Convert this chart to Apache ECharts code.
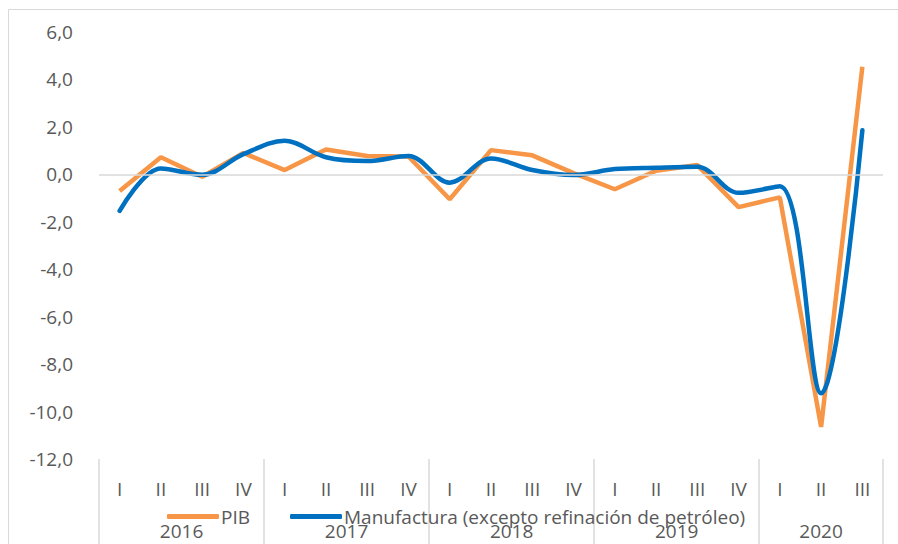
<!DOCTYPE html>
<html>
<head>
<meta charset="utf-8">
<style>
  html, body { margin: 0; padding: 0; background: #fff; }
  #chart { width: 898px; height: 544px; }
</style>
<script src="https://cdn.jsdelivr.net/npm/echarts@6/dist/echarts.min.js"></script>
</head>
<body>
<div id="chart"></div>
<script>
var quarters = ['I', 'II', 'III', 'IV', 'I', 'II', 'III', 'IV', 'I', 'II', 'III', 'IV',
  'I', 'II', 'III', 'IV', 'I', 'II', 'III'];
var years = ['2016', '2017', '2018', '2019', '2020'];
var yearCenters = [2, 6, 10, 14, 17.5];
var yearBounds = [0, 4, 8, 12, 16, 19];
var pib = [-0.7, 0.72, -0.1, 0.9, 0.18, 1.05, 0.77, 0.75, -1.05, 1.02, 0.8, 0.05,
  -0.63, 0.15, 0.39, -1.38, -0.97, -10.65, 4.54];
var manufactura = [-1.54, 0.25, -0.02, 0.85, 1.42, 0.72, 0.56, 0.77, -0.35, 0.67, 0.18, -0.03,
  0.22, 0.28, 0.32, -0.78, -0.5, -9.23, 1.86];

(function() {
  var ink = '#595959';
  var rule = '#D9D9D9';
  var font = '"Open Sans", "Noto Sans", sans-serif';
  var size = 19;

  var chart = echarts.init(document.getElementById('chart'), null, { renderer: 'svg' });
  chart.setOption({
    animation: false,
    textStyle: { fontFamily: font },
    graphic: [{
      type: 'rect',
      shape: { x: 8.5, y: 9.5, width: 900, height: 540 },
      style: { fill: 'none', stroke: rule, lineWidth: 1 },
      silent: true
    }],
    grid: { left: 99, right: 15, top: 32, bottom: 85 },
    legend: {
      data: ['PIB', 'Manufactura (excepto refinación de petróleo)'],
      left: 162,
      top: 502,
      icon: 'roundRect',
      itemWidth: 52,
      itemHeight: 5,
      itemGap: 40,
      textStyle: { color: ink, fontSize: size, fontFamily: font, padding: [0, 0, 0, -3] }
    },
    xAxis: [{
      type: 'category',
      data: quarters,
      position: 'bottom',
      axisLine: { show: false },
      axisTick: { show: false },
      axisLabel: { color: ink, fontSize: size, margin: 20, interval: 0 }
    }, {
      type: 'value',
      min: 0,
      max: 19,
      position: 'bottom',
      axisLine: { show: false },
      splitLine: { show: false },
      axisTick: {
        show: true,
        customValues: yearBounds,
        length: 86,
        lineStyle: { color: rule, width: 1.5 }
      },
      axisLabel: {
        color: ink,
        fontSize: size,
        margin: 62,
        customValues: yearCenters,
        formatter: function(v) {
          var i = yearCenters.indexOf(v);
          return i >= 0 ? years[i] : '';
        }
      }
    }],
    yAxis: {
      type: 'value',
      min: -12,
      max: 6,
      interval: 2,
      axisLine: { show: false },
      axisTick: { show: false },
      splitLine: { show: false },
      axisLabel: {
        color: ink,
        fontSize: size,
        margin: 26,
        formatter: function(v) { return v.toFixed(1).replace('.', ','); }
      }
    },
    series: [{
      name: 'zero',
      type: 'line',
      data: [],
      z: 1,
      silent: true,
      markLine: {
        silent: true,
        symbol: 'none',
        label: { show: false },
        lineStyle: { color: rule, type: 'solid', width: 1.5 },
        data: [{ yAxis: 0 }]
      }
    }, {
      name: 'PIB',
      type: 'line',
      data: pib,
      z: 3,
      showSymbol: false,
      symbol: 'none',
      color: '#F79646',
      lineStyle: { color: '#F79646', width: 4.5 }
    }, {
      name: 'Manufactura (excepto refinación de petróleo)',
      type: 'line',
      data: manufactura,
      z: 4,
      smooth: 0.35,
      showSymbol: false,
      symbol: 'none',
      color: '#0070C0',
      lineStyle: { color: '#0070C0', width: 4.5, cap: 'round' }
    }]
  });
  window.addEventListener('resize', function() { chart.resize(); });
})();
</script>
</body>
</html>
